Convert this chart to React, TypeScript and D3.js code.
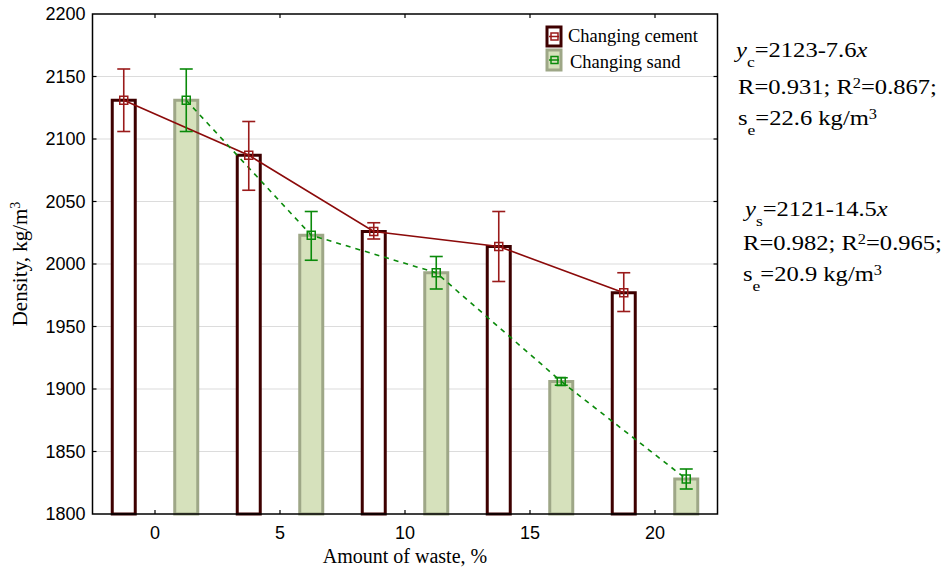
import React from "react";
import * as d3 from "d3";

const categories = [0, 5, 10, 15, 20];
const cementValues = [2131, 2087, 2026, 2014, 1977];
const cementLow = [2106, 2059, 2020, 1986, 1962];
const cementHigh = [2156, 2114, 2033, 2042, 1993];
const sandValues = [2131, 2023, 1993, 1906, 1828];
const sandLow = [2106, 2003, 1980, 1903, 1820];
const sandHigh = [2156, 2042, 2006, 1909, 1836];
const yTicks = [1800, 1850, 1900, 1950, 2000, 2050, 2100, 2150, 2200];
const xTicks = [0, 5, 10, 15, 20];
const seriesNames = ["Changing cement", "Changing sand"];

const W = 950, H = 572;
const L = 92.5, R = 717.5, T = 14, B = 514;

export default function App() {
  const x = d3.scaleLinear().domain([-2.5, 22.5]).range([L, R]);
  const y = d3.scaleLinear().domain([1800, 2200]).range([B, T]);
  const off = 1.25;
  const barW = 23;
  const cap = 6.5;
  const cementX = (c: number) => x(c - off);
  const sandX = (c: number) => x(c + off);
  const line = d3.line<[number, number]>().x((d) => d[0]).y((d) => d[1]);
  const cementPts: [number, number][] = categories.map((c, i) => [cementX(c), y(cementValues[i])]);
  const sandPts: [number, number][] = categories.map((c, i) => [sandX(c), y(sandValues[i])]);

  const cementStroke = "#3e0000";
  const cementLine = "#8b0a0a";
  const cementErr = "#9a1b1b";
  const sandFill = "#d6e1bc";
  const sandStroke = "#9ea787";
  const sandLine = "#0a8a0a";

  const serif = "'Liberation Serif', 'Times New Roman', serif";
  const sans = "'Liberation Sans', Arial, sans-serif";
  const sx = 1.17;

  const ann = (tx: number, ty: number, content: React.ReactNode, key: string) => (
    <text key={key} transform={`translate(${tx},${ty}) scale(${sx},1)`} x={0} y={0}>{content}</text>
  );

  return (
    <svg width={W} height={H} style={{ position: "absolute", left: 0, top: 0, background: "#fff" }}>
      {yTicks.slice(1, -1).map((t) => (
        <line key={"g" + t} x1={L} x2={R} y1={y(t)} y2={y(t)} stroke="#dcdcdc" strokeWidth={1.2} />
      ))}
      {categories.map((c, i) => (
        <rect key={"cb" + c} x={cementX(c) - barW / 2} y={y(cementValues[i])} width={barW}
          height={B - y(cementValues[i])} fill="#fff" stroke={cementStroke} strokeWidth={3} />
      ))}
      {categories.map((c, i) => (
        <rect key={"sb" + c} x={sandX(c) - barW / 2} y={y(sandValues[i])} width={barW}
          height={B - y(sandValues[i])} fill={sandFill} stroke={sandStroke} strokeWidth={3} />
      ))}
      <path d={line(cementPts) || ""} fill="none" stroke={cementLine} strokeWidth={1.6} />
      <path d={line(sandPts) || ""} fill="none" stroke={sandLine} strokeWidth={1.6} strokeDasharray="5,5" />
      {categories.map((c, i) => {
        const cx = cementX(c);
        return (
          <g key={"ce" + c} stroke={cementErr} strokeWidth={1.6}>
            <line x1={cx} x2={cx} y1={y(cementLow[i])} y2={y(cementHigh[i])} />
            <line x1={cx - cap} x2={cx + cap} y1={y(cementLow[i])} y2={y(cementLow[i])} />
            <line x1={cx - cap} x2={cx + cap} y1={y(cementHigh[i])} y2={y(cementHigh[i])} />
          </g>
        );
      })}
      {categories.map((c, i) => {
        const cx = sandX(c);
        return (
          <g key={"se" + c} stroke={sandLine} strokeWidth={1.6}>
            <line x1={cx} x2={cx} y1={y(sandLow[i])} y2={y(sandHigh[i])} />
            <line x1={cx - cap} x2={cx + cap} y1={y(sandLow[i])} y2={y(sandLow[i])} />
            <line x1={cx - cap} x2={cx + cap} y1={y(sandHigh[i])} y2={y(sandHigh[i])} />
          </g>
        );
      })}
      {cementPts.map((p, i) => (
        <rect key={"cm" + i} x={p[0] - 4} y={p[1] - 4} width={8} height={8} fill="none" stroke={cementErr} strokeWidth={1.5} />
      ))}
      {sandPts.map((p, i) => (
        <rect key={"sm" + i} x={p[0] - 4} y={p[1] - 4} width={8} height={8} fill="none" stroke={sandLine} strokeWidth={1.5} />
      ))}
      <rect x={L} y={T} width={R - L} height={B - T} fill="none" stroke="#000" strokeWidth={1.5} />
      {yTicks.slice(1, -1).map((t) => (
        <g key={"yt" + t} stroke="#000" strokeWidth={1.2}>
          <line x1={L} x2={L + 4} y1={y(t)} y2={y(t)} />
          <line x1={R - 4} x2={R} y1={y(t)} y2={y(t)} />
        </g>
      ))}
      {xTicks.map((t) => (
        <g key={"xt" + t} stroke="#000" strokeWidth={1.2}>
          <line x1={x(t)} x2={x(t)} y1={B} y2={B - 4} />
          <line x1={x(t)} x2={x(t)} y1={T} y2={T + 4} />
        </g>
      ))}
      {yTicks.map((t) => (
        <text key={"yl" + t} x={L - 7} y={y(t)} dy="0.36em" textAnchor="end" fontFamily={sans} fontSize={18} fill="#000">{t}</text>
      ))}
      {xTicks.map((t) => (
        <text key={"xl" + t} x={x(t)} y={B + 19} dy="0.36em" textAnchor="middle" fontFamily={sans} fontSize={18} fill="#000">{t}</text>
      ))}
      <text x={(L + R) / 2} y={563} textAnchor="middle" fontFamily={serif} fontSize={20} fill="#000">Amount of waste, %</text>
      <text transform={`translate(27,${(T + B) / 2}) rotate(-90)`} textAnchor="middle" fontFamily={serif} fontSize={21} fill="#000">
        Density, kg/m<tspan dy={-7} fontSize={14}>3</tspan>
      </text>
      <g>
        <rect x={547} y={27} width={14} height={19} fill="#fff" stroke={cementStroke} strokeWidth={3} />
        <line x1={549} x2={559} y1={36.5} y2={36.5} stroke={cementErr} strokeWidth={1.5} />
        <rect x={551} y={33} width={7} height={7} fill="none" stroke={cementErr} strokeWidth={1.5} />
        <text x={568} y={42} fontFamily={serif} fontSize={18.5} fill="#000">{seriesNames[0]}</text>
        <rect x={547} y={50} width={14} height={20} fill={sandFill} stroke={sandStroke} strokeWidth={3} />
        <line x1={549} x2={559} y1={60} y2={60} stroke={sandLine} strokeWidth={1.5} />
        <rect x={551} y={56.5} width={7} height={7} fill="none" stroke={sandLine} strokeWidth={1.5} />
        <text x={570} y={68} fontFamily={serif} fontSize={18.5} fill="#000">{seriesNames[1]}</text>
      </g>
      <g fontFamily={serif} fontSize={21} fill="#000">
        {ann(736, 57, <>
          <tspan fontStyle="italic">y</tspan><tspan dy={10} fontSize={15}>c</tspan><tspan dy={-10}>=2123-7.6</tspan><tspan fontStyle="italic">x</tspan>
        </>, "a1")}
        {ann(738, 94, <>
          R=0.931; R<tspan dy={-6} fontSize={14}>2</tspan><tspan dy={6}>=0.867;</tspan>
        </>, "a2")}
        {ann(738, 125, <>
          s<tspan dy={10} fontSize={15}>e</tspan><tspan dy={-10}>=22.6 kg/m</tspan><tspan dy={-6} fontSize={14}>3</tspan>
        </>, "a3")}
        {ann(745, 216, <>
          <tspan fontStyle="italic">y</tspan><tspan dy={10} fontSize={15}>s</tspan><tspan dy={-10}>=2121-14.5</tspan><tspan fontStyle="italic">x</tspan>
        </>, "a4")}
        {ann(743, 250, <>
          R=0.982; R<tspan dy={-6} fontSize={14}>2</tspan><tspan dy={6}>=0.965;</tspan>
        </>, "a5")}
        {ann(743, 281, <>
          s<tspan dy={10} fontSize={15}>e</tspan><tspan dy={-10}>=20.9 kg/m</tspan><tspan dy={-6} fontSize={14}>3</tspan>
        </>, "a6")}
      </g>
    </svg>
  );
}
